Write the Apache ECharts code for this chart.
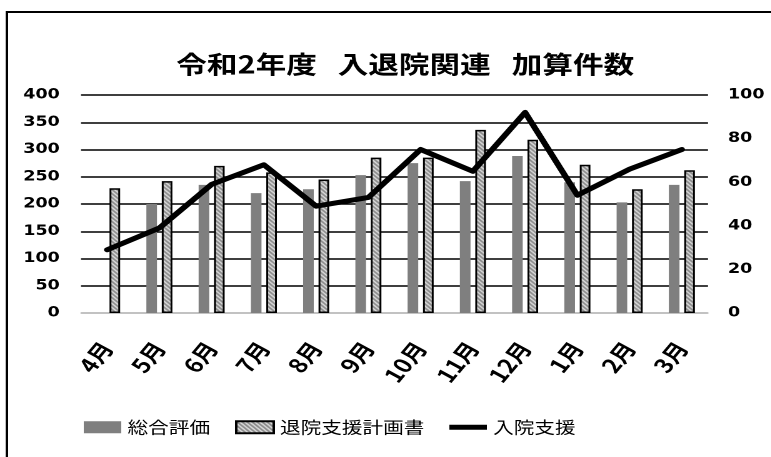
<!DOCTYPE html>
<html>
<head>
<meta charset="utf-8">
<script src="https://cdn.jsdelivr.net/npm/echarts@6/dist/echarts.min.js"></script>
<style>
  html, body { margin: 0; padding: 0; background: #fff; overflow: hidden; }
  /* the chart is laid out narrow and widened horizontally */
  #chart { width: 617px; height: 457px; transform: scaleX(1.25); transform-origin: 0 0; }
</style>
</head>
<body>
<div id="chart"></div>
<script>
// 月別カテゴリ
const months = ['4月', '5月', '6月', '7月', '8月', '9月', '10月', '11月', '12月', '1月', '2月', '3月'];
// 総合評価（左軸）
const sougouHyouka = [null, 200, 235, 220, 227, 253, 275, 242, 288, 240, 203, 235];
// 退院支援計画書（左軸）
const taiinKeikaku = [229, 242, 270, 258, 245, 285, 285, 336, 318, 272, 227, 262];
// 入院支援（右軸）
const nyuinShien = [29, 39, 59, 68, 49, 53, 75, 65, 92, 54, 66, 75];

const leftTicks = { min: 0, max: 400, interval: 50 };
const rightTicks = { min: 0, max: 100, interval: 20 };

// 斜線ハッチのパターン
function makeHatch() {
  const c = document.createElement('canvas');
  c.width = 8; c.height = 8;
  const g = c.getContext('2d');
  g.fillStyle = '#ffffff';
  g.fillRect(0, 0, 8, 8);
  g.strokeStyle = '#7a7a7a';
  g.lineWidth = 1.6;
  g.beginPath();
  for (let k = -8; k <= 8; k += 4) {
    g.moveTo(k - 2, -2); g.lineTo(k + 10, 10);
  }
  g.stroke();
  return c;
}
const hatch = { image: makeHatch(), repeat: 'repeat' };

const numFont = { fontFamily: 'DejaVu Sans', fontWeight: 'bold', fontSize: 14, color: '#000' };

const chart = echarts.init(document.getElementById('chart'), null, { devicePixelRatio: 2 });
chart.setOption({
  animation: false,
  backgroundColor: '#fff',
  graphic: [{
    type: 'rect',
    shape: { x: 5.5, y: 12, width: 700, height: 500 },
    style: { fill: 'none', stroke: '#000', lineWidth: 2 },
    silent: true
  }],
  title: {
    text: '令和2年度   入退院関連   加算件数',
    left: 136,
    top: 47,
    textStyle: { fontFamily: 'Noto Sans CJK JP', fontWeight: 'bold', fontSize: 24.5, color: '#000' }
  },
  legend: {
    top: 414,
    left: 62,
    itemWidth: 30,
    itemHeight: 12,
    itemGap: 20,
    textStyle: { fontFamily: 'Noto Sans CJK JP', fontSize: 16.5, color: '#000' },
    data: [
      { name: '総合評価', icon: 'rect' },
      { name: '退院支援計画書', icon: 'rect' },
      { name: '入院支援', icon: 'path://M0,0M0,12M0,3L36,3L36,9L0,9Z' }
    ]
  },
  grid: { left: 64.8, right: 50.6, top: 95, bottom: 144 },
  xAxis: {
    type: 'category',
    data: months,
    axisLine: { lineStyle: { color: '#d9d9d9', width: 1.5 } },
    axisTick: { show: false },
    axisLabel: {
      rotate: 56,
      margin: 31,
      fontFamily: 'Noto Sans CJK JP',
      fontWeight: 'bold',
      fontSize: 20,
      color: '#000'
    }
  },
  yAxis: [
    {
      type: 'value',
      min: leftTicks.min, max: leftTicks.max, interval: leftTicks.interval,
      axisLine: { show: false },
      axisTick: { show: false },
      axisLabel: Object.assign({ margin: 17 }, numFont),
      splitLine: { lineStyle: { color: '#000', width: 1.5 } }
    },
    {
      type: 'value',
      min: rightTicks.min, max: rightTicks.max, interval: rightTicks.interval,
      axisLine: { show: false },
      axisTick: { show: false },
      axisLabel: Object.assign({ margin: 16 }, numFont),
      splitLine: { show: false }
    }
  ],
  series: [
    {
      name: '総合評価',
      type: 'bar',
      data: sougouHyouka,
      barWidth: 8.5,
      barGap: '45%',
      itemStyle: { color: '#7f7f7f' }
    },
    {
      name: '退院支援計画書',
      type: 'bar',
      data: taiinKeikaku,
      barWidth: 8.5,
      itemStyle: { color: hatch, borderColor: '#000', borderWidth: 1.5 }
    },
    {
      name: '入院支援',
      type: 'line',
      yAxisIndex: 1,
      data: nyuinShien,
      symbol: 'none',
      z: 5,
      lineStyle: { color: '#000', width: 5, join: 'round', cap: 'round' },
      itemStyle: { color: '#000' }
    }
  ]
});
</script>
</body>
</html>
